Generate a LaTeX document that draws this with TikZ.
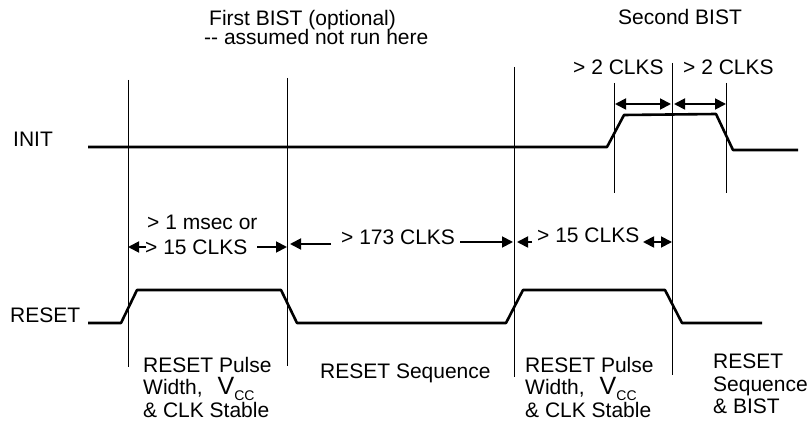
\documentclass[tikz,border=0pt]{standalone}
\usepackage{fontspec}
\setmainfont{Liberation Sans}
\usetikzlibrary{arrows.meta}

\begin{document}
\begin{tikzpicture}[x=1pt,y=-1pt,
  txt/.style={inner sep=0pt,anchor=base west,font=\fontsize{21}{22.5}\selectfont},
  block/.style={txt,anchor=north west,align=left},
  sig/.style={line width=2.6pt,line join=round},
  guide/.style={line width=0.9pt},
  dim/.style={line width=1.8pt,-{Triangle[length=11pt,width=11pt]}},
  ddim/.style={line width=1.8pt,{Triangle[length=11pt,width=11pt]}-{Triangle[length=11pt,width=11pt]}}]
\useasboundingbox (0,0) rectangle (809,422);

% guide lines
\draw[guide] (128,80) -- (128,367);
\draw[guide] (287,78) -- (287,366);
\draw[guide] (514.5,67) -- (514.5,377);
\draw[guide] (672.5,63) -- (672.5,375);
\draw[guide] (614,83) -- (614,193);
\draw[guide] (726,83) -- (726,193);

% signals
\draw[sig] (88,147) -- (607,147) -- (624,115) -- (716,114) -- (733,150) -- (798,150);
\draw[sig] (88,323) -- (121,323) -- (137,290) -- (281,290) -- (297,323)
  -- (506,323) -- (523,290) -- (665,290) -- (682,323) -- (762,323);

% dimension ends
\coordinate (m1) at (146,247);
\coordinate (m2) at (128,247);
\coordinate (m3) at (257,247);
\coordinate (m4) at (287,247);
\coordinate (r1) at (331,244);
\coordinate (r2) at (290,244);
\coordinate (r3) at (460,242);
\coordinate (r4) at (513,242);
\coordinate (p1) at (532,242);
\coordinate (p2) at (517,242);
\coordinate (p3) at (643,242);
\coordinate (p4) at (672,242);
\coordinate (b1) at (615,104);
\coordinate (b2) at (671,104);
\coordinate (b3) at (674,104);
\coordinate (b4) at (726,104);

\draw[dim] (m1) -- (m2);
\draw[dim] (m3) -- (m4);
\draw[dim] (r1) -- (r2);
\draw[dim] (r3) -- (r4);
\draw[dim] (p1) -- (p2);
\draw[ddim] (p3) -- (p4);
\draw[ddim] (b1) -- (b2);
\draw[ddim] (b3) -- (b4);

% labels
\node[txt] (first) at (209,26) {First BIST (optional)};
\node[txt] (firstnote) at (204,45) {-{}- assumed not run here};
\node[txt] (second) at (618,25) {Second BIST};
\node[txt] (clka) at (573,75) {> 2 CLKS};
\node[txt] (clkb) at (683,75) {> 2 CLKS};
\node[txt] (init) at (13,147) {INIT};
\node[txt] (reset) at (10,322) {RESET};
\node[txt] (msec) at (147,230) {> 1 msec or};
\node[txt] (clk15a) at (145,255) {> 15 CLKS};
\node[txt] (clk173) at (341,245) {> 173 CLKS};
\node[txt] (clk15b) at (537,243) {> 15 CLKS};
\node[txt] (seq) at (320,378) {RESET Sequence};

\node[block] (pulsea) at (143,357) {RESET Pulse\\
  Width,\hspace{15pt}{\fontsize{25}{22}\selectfont V}\raisebox{-6pt}[0pt][0pt]{\fontsize{14}{14}\selectfont CC}\\
  \& CLK Stable};
\node[block] (pulseb) at (525,357) {RESET Pulse\\
  Width,\hspace{15pt}{\fontsize{25}{22}\selectfont V}\raisebox{-6pt}[0pt][0pt]{\fontsize{14}{14}\selectfont CC}\\
  \& CLK Stable};
\node[block] (seqbist) at (713,354) {RESET\\Sequence\\\& BIST};
\end{tikzpicture}
\end{document}
